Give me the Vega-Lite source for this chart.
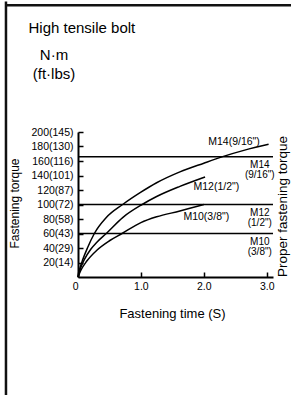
{
  "$schema": "https://vega.github.io/schema/vega-lite/v6.json",
  "width": 195,
  "height": 145,
  "autosize": {"type": "none"},
  "padding": {"left": 78, "top": 132, "right": 18, "bottom": 118},
  "background": "white",
  "config": {
    "font": "Liberation Sans",
    "view": {"stroke": null},
    "axis": {
      "grid": false,
      "titleFontWeight": "normal",
      "titleColor": "#000",
      "labelColor": "#000",
      "domainColor": "#000",
      "tickColor": "#000",
      "labelFont": "Liberation Sans",
      "titleFont": "Liberation Sans"
    },
    "text": {"font": "Liberation Sans", "color": "#000"}
  },
  "resolve": {"scale": {"x": "independent", "y": "independent"}},
  "layer": [
    {
      "data": {"values": [{"part": "left border"}]},
      "mark": {"type": "rule", "clip": false, "color": "#111", "strokeWidth": 2.5},
      "encoding": {
        "x": {"datum": -1.145, "type": "quantitative", "scale": {"domain": [0, 3.1], "nice": false},
          "axis": {"orient": "top", "labels": false, "ticks": false, "domain": false,
            "title": "High tensile bolt", "titleFontSize": 15, "titleX": -50, "titleY": -100,
            "titleAlign": "left", "titleBaseline": "alphabetic", "titleAngle": 0}},
        "y": {"datum": 380, "type": "quantitative", "scale": {"domain": [0, 200], "nice": false}, "axis": null},
        "y2": {"datum": -170}
      }
    },
    {
      "data": {"values": [{"part": "top border"}]},
      "mark": {"type": "rule", "clip": false, "color": "#111", "strokeWidth": 2.5},
      "encoding": {
        "x": {"datum": -1.16, "type": "quantitative", "scale": {"domain": [0, 3.1], "nice": false}, "axis": null},
        "x2": {"datum": 3.7},
        "y": {"datum": 375, "type": "quantitative", "scale": {"domain": [0, 200], "nice": false}, "axis": null}
      }
    },
    {
      "data": {"values": [
        {"bolt": "M14", "t": 0, "torque": 0},
        {"bolt": "M14", "t": 0.03, "torque": 12},
        {"bolt": "M14", "t": 0.08, "torque": 25},
        {"bolt": "M14", "t": 0.15, "torque": 40},
        {"bolt": "M14", "t": 0.26, "torque": 60},
        {"bolt": "M14", "t": 0.45, "torque": 82},
        {"bolt": "M14", "t": 0.71, "torque": 100},
        {"bolt": "M14", "t": 1.0, "torque": 117},
        {"bolt": "M14", "t": 1.25, "torque": 130},
        {"bolt": "M14", "t": 1.62, "torque": 145},
        {"bolt": "M14", "t": 2.0, "torque": 157},
        {"bolt": "M14", "t": 2.3, "torque": 166},
        {"bolt": "M14", "t": 2.65, "torque": 175},
        {"bolt": "M14", "t": 3.03, "torque": 183},
        {"bolt": "M12", "t": 0, "torque": 0},
        {"bolt": "M12", "t": 0.04, "torque": 12},
        {"bolt": "M12", "t": 0.1, "torque": 24},
        {"bolt": "M12", "t": 0.2, "torque": 38},
        {"bolt": "M12", "t": 0.3, "torque": 48},
        {"bolt": "M12", "t": 0.45, "torque": 60},
        {"bolt": "M12", "t": 0.71, "torque": 82},
        {"bolt": "M12", "t": 1.02, "torque": 100},
        {"bolt": "M12", "t": 1.25, "torque": 111},
        {"bolt": "M12", "t": 1.62, "torque": 125},
        {"bolt": "M12", "t": 2.02, "torque": 138},
        {"bolt": "M10", "t": 0, "torque": 0},
        {"bolt": "M10", "t": 0.05, "torque": 10},
        {"bolt": "M10", "t": 0.14, "torque": 22},
        {"bolt": "M10", "t": 0.3, "torque": 37},
        {"bolt": "M10", "t": 0.5, "torque": 50},
        {"bolt": "M10", "t": 0.7, "torque": 60},
        {"bolt": "M10", "t": 1.0, "torque": 75},
        {"bolt": "M10", "t": 1.25, "torque": 83},
        {"bolt": "M10", "t": 1.62, "torque": 91},
        {"bolt": "M10", "t": 2.0, "torque": 100}
      ]},
      "mark": {"type": "line", "interpolate": "monotone", "color": "#000", "strokeWidth": 1.5},
      "encoding": {
        "x": {"field": "t", "type": "quantitative", "scale": {"domain": [0, 3.1], "nice": false},
          "axis": {"orient": "bottom", "values": [0, 1, 2, 3],
            "labelExpr": "datum.value == 0 ? '0' : format(datum.value, '.1f')",
            "labelAlign": {"condition": {"test": "datum.value == 0", "value": "right"}, "value": "center"},
            "labelFlush": false, "labelOverlap": false, "labelFontSize": 10.5, "labelPadding": 9,
            "tickSize": -5, "tickWidth": 1.5, "domainWidth": 2,
            "title": "Fastening time (S)", "titleFontSize": 13, "titleX": 94, "titleY": 36,
            "titleAlign": "center", "titleBaseline": "middle"}},
        "y": {"field": "torque", "type": "quantitative", "scale": {"domain": [0, 200], "nice": false},
          "axis": {"orient": "left", "values": [20, 40, 60, 80, 100, 120, 140, 160, 180, 200],
            "labelExpr": "datum.value + '(' + [0, 14, 29, 43, 58, 72, 87, 101, 116, 130, 145][datum.value / 20] + ')'",
            "labelFlush": false, "labelOverlap": false, "labelFontSize": 10.5, "labelPadding": 10,
            "tickSize": -5, "tickWidth": 1.5, "domainWidth": 2,
            "title": "Fastening torque", "titleFontSize": 12, "titleAngle": 270, "titleX": -64, "titleY": 71,
            "titleAlign": "center", "titleBaseline": "middle"}},
        "detail": {"field": "bolt", "type": "nominal"}
      }
    },
    {
      "data": {"values": [
        {"bolt": "M14", "torque": 166},
        {"bolt": "M12", "torque": 100},
        {"bolt": "M10", "torque": 60}
      ]},
      "mark": {"type": "rule", "color": "#000", "strokeWidth": 1.5},
      "encoding": {
        "y": {"field": "torque", "type": "quantitative", "scale": {"domain": [0, 200], "nice": false},
          "axis": {"orient": "right", "labels": false, "ticks": false, "domain": false,
            "title": "Proper fastening torque", "titleFontSize": 13.5, "titleAngle": 270,
            "titleX": 9, "titleY": 74, "titleAlign": "center", "titleBaseline": "middle"}}
      }
    },
    {
      "data": {"values": [
        {"label": "M14\n(9/16\")", "torque": 166},
        {"label": "M12\n(1/2\")", "torque": 100},
        {"label": "M10\n(3/8\")", "torque": 60}
      ]},
      "mark": {"type": "text", "align": "center", "baseline": "top", "dy": 3, "lineBreak": "\n", "lineHeight": 10, "fontSize": 10, "color": "#000"},
      "encoding": {
        "x": {"datum": 2.89, "type": "quantitative", "scale": {"domain": [0, 3.1], "nice": false}, "axis": null},
        "y": {"field": "torque", "type": "quantitative", "scale": {"domain": [0, 200], "nice": false}, "axis": null},
        "text": {"field": "label", "type": "nominal"}
      }
    },
    {
      "data": {"values": [
        {"label": "M14(9/16\")", "t": 2.48, "torque": 186},
        {"label": "M12(1/2\")", "t": 2.2, "torque": 124},
        {"label": "M10(3/8\")", "t": 2.04, "torque": 83}
      ]},
      "mark": {"type": "text", "align": "center", "baseline": "middle", "fontSize": 10.5, "color": "#000"},
      "encoding": {
        "x": {"field": "t", "type": "quantitative", "scale": {"domain": [0, 3.1], "nice": false}, "axis": null},
        "y": {"field": "torque", "type": "quantitative", "scale": {"domain": [0, 200], "nice": false},
          "axis": {"orient": "left", "labels": false, "ticks": false, "domain": false,
            "title": ["N·m", "(ft·lbs)"], "titleFontSize": 15, "titleLineHeight": 19, "titleAngle": 0,
            "titleX": -24.5, "titleY": -73, "titleAlign": "center", "titleBaseline": "alphabetic"}},
        "text": {"field": "label", "type": "nominal"}
      }
    }
  ]
}
